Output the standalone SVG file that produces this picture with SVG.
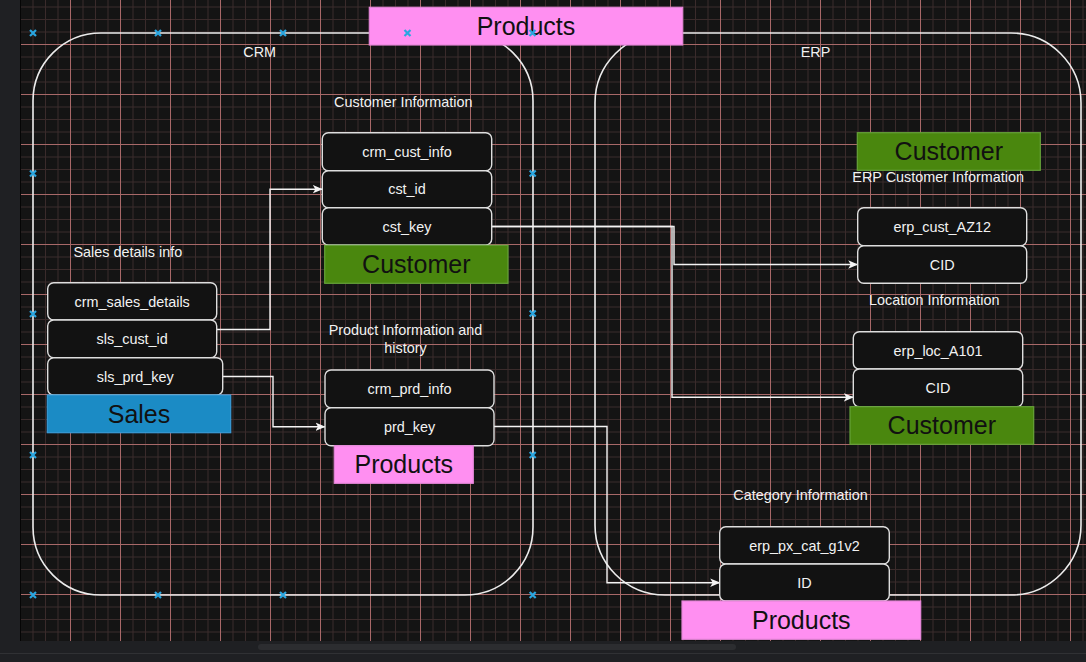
<svg xmlns="http://www.w3.org/2000/svg" width="1086" height="662" viewBox="0 0 1086 662">
<style>
.lbl{font-family:"Liberation Sans",Arial,sans-serif;font-size:14.4px;fill:#f2f2f2;text-anchor:middle}
.big{font-family:"Liberation Sans",Arial,sans-serif;font-size:25px;fill:#111;text-anchor:middle}
.row{fill:#121212;stroke:#dedede;stroke-width:1.4}
.cont{fill:none;stroke:#ececec;stroke-width:1.6}
.conn{fill:none;stroke:#f4f4f4;stroke-width:1.4}
.green{fill:#4a870e;stroke:#66a23a;stroke-width:1.2}
.pink{fill:#ff8ff1;stroke:#e486d8;stroke-width:1.2}
.blue{fill:#1b8bc5;stroke:#3a9bd6;stroke-width:1.2}
.hdl{stroke:#2aa6e0;stroke-width:2.2;fill:none}
</style>
<defs>
<pattern id="grid" x="20" y="44" width="50" height="50" patternUnits="userSpaceOnUse">
<rect width="50" height="50" fill="#141414"/>
<path d="M13 0V50M25.5 0V50M38 0V50M0 13H50M0 25.5H50M0 38H50" stroke="#3a2b2b" stroke-width="1"/>
<path d="M0.5 0V50M0 0.5H50" stroke="#a86868" stroke-width="1"/>
</pattern>
<marker id="arr" viewBox="0 0 10 10" refX="9.5" refY="5" markerWidth="10" markerHeight="10" markerUnits="userSpaceOnUse" orient="auto">
<path d="M0,0.8 L10,5 L0,9.2 L2.5,5 Z" fill="#f4f4f4"/>
</marker>
<path id="x" d="M-3,-3 L3,3 M-3,3 L3,-3"/>
</defs>

<rect x="0" y="0" width="1086" height="662" fill="#1f2023"/>
<rect x="20.5" y="0" width="1066" height="641" fill="url(#grid)"/>
<line x1="20.5" y1="0" x2="20.5" y2="641" stroke="#050505" stroke-width="1"/>
<line x1="0" y1="653.5" x2="1086" y2="653.5" stroke="#303134" stroke-width="1"/>
<rect x="258" y="644" width="478" height="6" rx="3" fill="#2c2d30"/>

<g id="containers">
<rect id="crm" class="cont" x="33" y="33" width="500" height="562" rx="68" ry="68"/>
<rect id="erp" class="cont" x="595" y="33" width="486" height="562" rx="70" ry="70"/>
<text class="lbl" x="259.7" y="57">CRM</text>
<text class="lbl" x="815.5" y="57">ERP</text>
</g>

<g id="connectors">
<path class="conn" d="M216.7,329.5 H270 V189.2 H322.3" marker-end="url(#arr)"/>
<path class="conn" d="M222.7,376.5 H273 V426.7 H325" marker-end="url(#arr)"/>
<path class="conn" d="M491.7,226.5 H674 V264.5 H857.7" marker-end="url(#arr)"/>
<path class="conn" d="M491.7,226.5 H672 V397.3 H853.3" marker-end="url(#arr)"/>
<path class="conn" d="M494,426.5 H607 V582.7 H719.7" marker-end="url(#arr)"/>
</g>

<g id="crm_cust_info">
<text class="lbl" x="403.3" y="107">Customer Information</text>
<rect class="row" x="322.3" y="132.7" width="169.4" height="38" rx="6"/>
<text class="lbl" x="407" y="157">crm_cust_info</text>
<rect class="row" x="322.3" y="170.7" width="169.4" height="37" rx="6"/>
<text class="lbl" x="407" y="194.4">cst_id</text>
<rect class="row" x="322.3" y="207.7" width="169.4" height="37.3" rx="6"/>
<text class="lbl" x="407" y="231.6">cst_key</text>
<rect class="green" x="324.7" y="245.3" width="183.3" height="38"/>
<text class="big" x="416.3" y="273.2">Customer</text>
</g>

<g id="crm_sales_details">
<text class="lbl" x="127.8" y="256.7">Sales details info</text>
<rect class="row" x="47.7" y="282.7" width="169" height="37.3" rx="6"/>
<text class="lbl" x="132.2" y="306.6">crm_sales_details</text>
<rect class="row" x="47.7" y="320" width="169" height="37.7" rx="6"/>
<text class="lbl" x="132.2" y="344">sls_cust_id</text>
<rect class="row" x="47.7" y="357.7" width="175" height="37.3" rx="6"/>
<text class="lbl" x="135.2" y="381.6">sls_prd_key</text>
<rect class="blue" x="47.3" y="395" width="183.4" height="37.7"/>
<text class="big" x="139" y="422.7">Sales</text>
</g>

<g id="crm_prd_info">
<text class="lbl" x="405.5" y="335">Product Information and</text>
<text class="lbl" x="405.5" y="353">history</text>
<rect class="row" x="325" y="370" width="169" height="37.7" rx="6"/>
<text class="lbl" x="409.5" y="394">crm_prd_info</text>
<rect class="row" x="325" y="407.7" width="169" height="38" rx="6"/>
<text class="lbl" x="409.5" y="431.9">prd_key</text>
<rect class="pink" x="334.3" y="445.7" width="139" height="37.6"/>
<text class="big" x="403.8" y="473.4">Products</text>
</g>

<g id="erp_cust_az12">
<rect class="green" x="857.3" y="132.7" width="183" height="37.6"/>
<text class="big" x="948.8" y="160.4">Customer</text>
<text class="lbl" x="938.2" y="181.7">ERP Customer Information</text>
<rect class="row" x="857.7" y="207.7" width="169" height="38" rx="6"/>
<text class="lbl" x="942.2" y="231.9">erp_cust_AZ12</text>
<rect class="row" x="857.7" y="245.7" width="169" height="37.6" rx="6"/>
<text class="lbl" x="942.2" y="269.7">CID</text>
</g>

<g id="erp_loc_a101">
<text class="lbl" x="934.3" y="305">Location Information</text>
<rect class="row" x="853.3" y="331.7" width="169.4" height="37.3" rx="6"/>
<text class="lbl" x="938" y="355.6">erp_loc_A101</text>
<rect class="row" x="853.3" y="369" width="169.4" height="37.7" rx="6"/>
<text class="lbl" x="938" y="393">CID</text>
<rect class="green" x="850" y="406.7" width="183.7" height="37.6"/>
<text class="big" x="941.8" y="434.4">Customer</text>
</g>

<g id="erp_px_cat_g1v2">
<text class="lbl" x="800.5" y="500">Category Information</text>
<rect class="row" x="719.7" y="526.7" width="169.6" height="37.3" rx="6"/>
<text class="lbl" x="804.5" y="550.6">erp_px_cat_g1v2</text>
<rect class="row" x="719.7" y="564" width="169.6" height="37" rx="6"/>
<text class="lbl" x="804.5" y="587.7">ID</text>
<rect class="pink" x="682" y="601" width="238.7" height="38.3"/>
<text class="big" x="801.3" y="628.9">Products</text>
</g>

<g id="products_title">
<rect class="pink" x="369.3" y="7.3" width="313.4" height="37.7"/>
<text class="big" x="526" y="35">Products</text>
</g>

<g id="handles" class="hdl">
<use href="#x" x="33" y="33"/><use href="#x" x="158" y="33"/><use href="#x" x="283" y="33"/><use href="#x" x="407.5" y="33"/><use href="#x" x="532.5" y="33"/>
<use href="#x" x="33" y="173.5"/><use href="#x" x="33" y="314"/><use href="#x" x="33" y="455"/><use href="#x" x="33" y="595"/>
<use href="#x" x="532.7" y="173.5"/><use href="#x" x="532.7" y="313.5"/><use href="#x" x="532.7" y="455"/><use href="#x" x="532.7" y="595"/>
<use href="#x" x="158" y="595"/><use href="#x" x="283" y="595"/>
</g>
</svg>
